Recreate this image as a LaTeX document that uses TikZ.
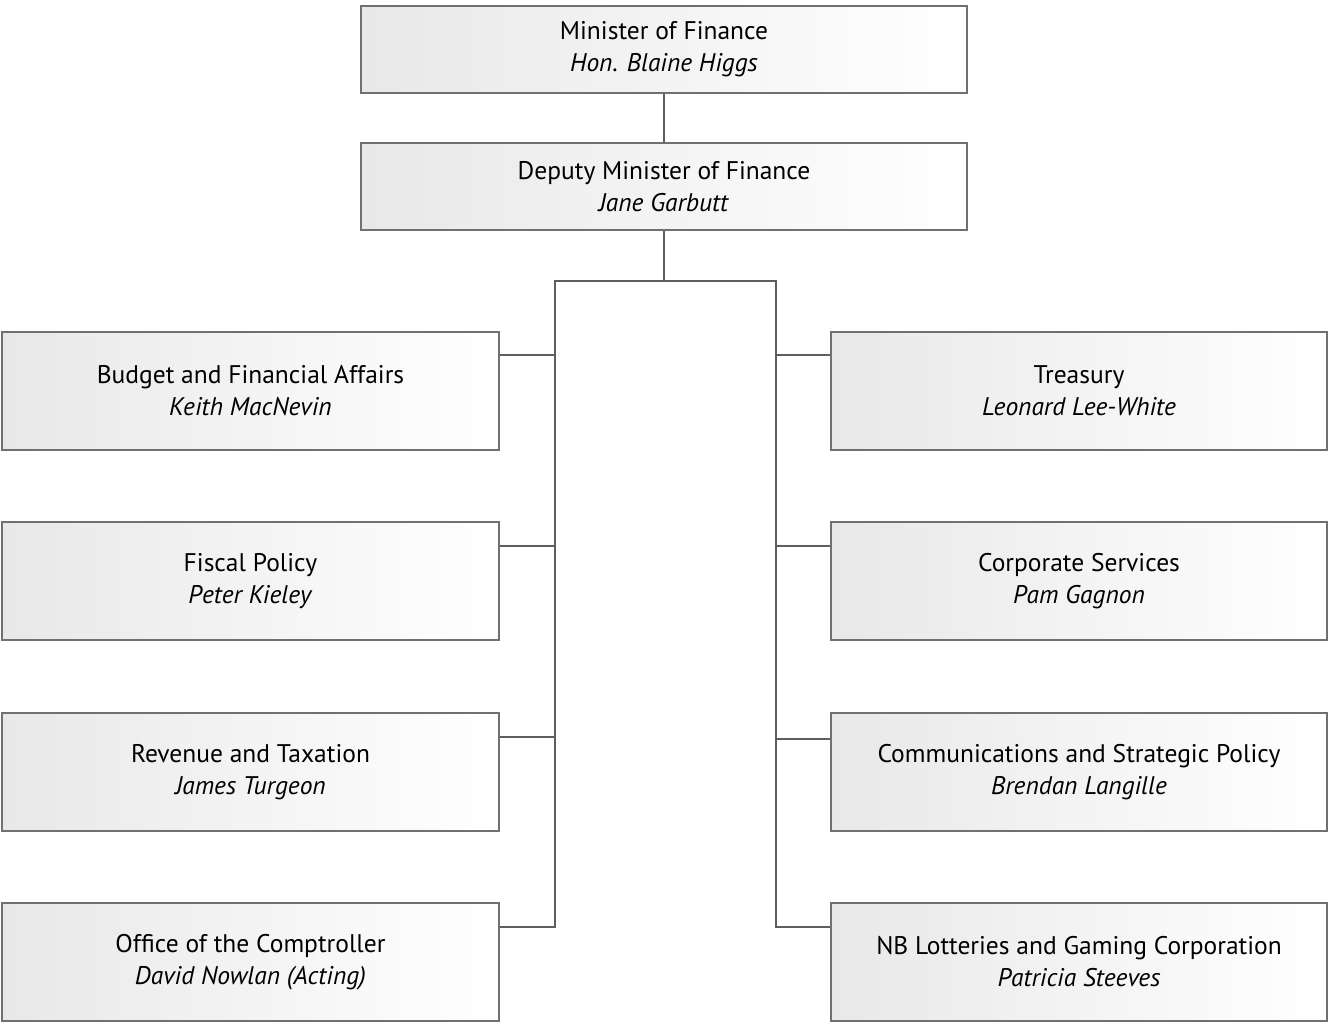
\documentclass[tikz,border=0pt]{standalone}
\usepackage{fontspec}
\setmainfont{PT Sans}
\definecolor{boxline}{HTML}{707070}
\definecolor{conn}{HTML}{5E5E5E}
\begin{document}
\begin{tikzpicture}[x=1pt,y=-1pt,
  orgbox/.style={draw=boxline, line width=1.3pt, shading=axis, left color=black!9, right color=white,
    shading angle=90, minimum width=#1, inner sep=0pt, align=center,
    font=\fontsize{25.5}{32}\selectfont},
  connline/.style={draw=conn, line width=2pt}]
\useasboundingbox (0,0) rectangle (1328,1022);
% top
\node[orgbox=606pt, minimum height=87pt] (min) at (664,49.5) {Minister of Finance\\\textit{Hon. Blaine Higgs}};
\node[orgbox=606pt, minimum height=87pt] (dep) at (664,186.5) {Deputy Minister of Finance\\\textit{Jane Garbutt}};
% left column
\node[orgbox=497pt, minimum height=118pt] (l1) at (250.5,391) {Budget and Financial Affairs\\\textit{Keith MacNevin}};
\node[orgbox=497pt, minimum height=118pt] (l2) at (250.5,581) {Fiscal Policy\\\textit{Peter Kieley}};
\node[orgbox=497pt, minimum height=118pt] (l3) at (250.5,772) {Revenue and Taxation\\\textit{James Turgeon}};
\node[orgbox=497pt, minimum height=118pt] (l4) at (250.5,962) {Office of the Comptroller\\\textit{David Nowlan (Acting)}};
% right column
\node[orgbox=496pt, minimum height=118pt] (r1) at (1079,391) {Treasury\\\textit{Leonard Lee-White}};
\node[orgbox=496pt, minimum height=118pt] (r2) at (1079,581) {Corporate Services\\\textit{Pam Gagnon}};
\node[orgbox=496pt, minimum height=118pt] (r3) at (1079,772) {Communications and Strategic Policy\\\textit{Brendan Langille}};
\node[orgbox=496pt, minimum height=118pt] (r4) at (1079,962) {NB Lotteries and Gaming Corporation\\\textit{Patricia Steeves}};
% connectors
\coordinate (hub) at (664,281);
\coordinate (lt) at (555,281);
\coordinate (rt) at (776,281);
\draw[connline] (min.south) -- (dep.north);
\draw[connline] (dep.south) -- (hub);
\draw[connline] (l4.north east |- 0,927) -| (lt) -- (rt) |- (r4.north west |- 0,927);
\foreach \n/\y in {l1/355,l2/546,l3/737} \draw[connline] (\n.north east |- 0,\y) -- (555,\y);
\foreach \n/\y in {r1/355,r2/546,r3/739} \draw[connline] (\n.north west |- 0,\y) -- (776,\y);
\end{tikzpicture}
\end{document}
